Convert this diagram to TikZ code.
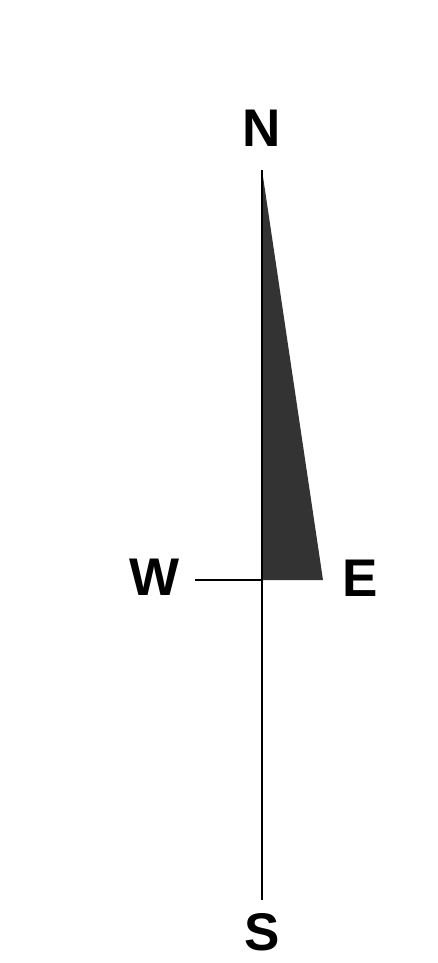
\documentclass[tikz,border=0pt]{standalone}
\usepackage{fontspec}
\setmainfont{Liberation Sans}
\usepackage{xcolor}
\definecolor{needle}{HTML}{333333}

\begin{document}
\begin{tikzpicture}[x=1pt, y=-1pt,
    dirlabel/.style={font=\fontsize{53}{63}\selectfont\bfseries, inner sep=0pt}]

        % Frame
        \useasboundingbox (0,0) rectangle (438,963);

        % Letters
        \node[dirlabel] (north) at (262,128) {N};
        \node[dirlabel] (south) at (262,932) {S};
        \node[dirlabel] (west) at (155,577) {W};
        \node[dirlabel] (east) at (360,578) {E};

        % Axis points
        \coordinate (top) at (262,170);
        \coordinate (centre) at (262,580);
        \coordinate (bottom) at (262,900);
        \coordinate (left) at (195,580);
        \coordinate (tip) at (323,580);

        % Needle
        \fill[needle] (top) -- (tip) -- (centre) -- cycle;

        % Cross lines
        \draw[line width=1.2pt] (top) -- (bottom);
        \draw[line width=1.2pt] (left) -- (centre);

    \end{tikzpicture}
\end{document}
